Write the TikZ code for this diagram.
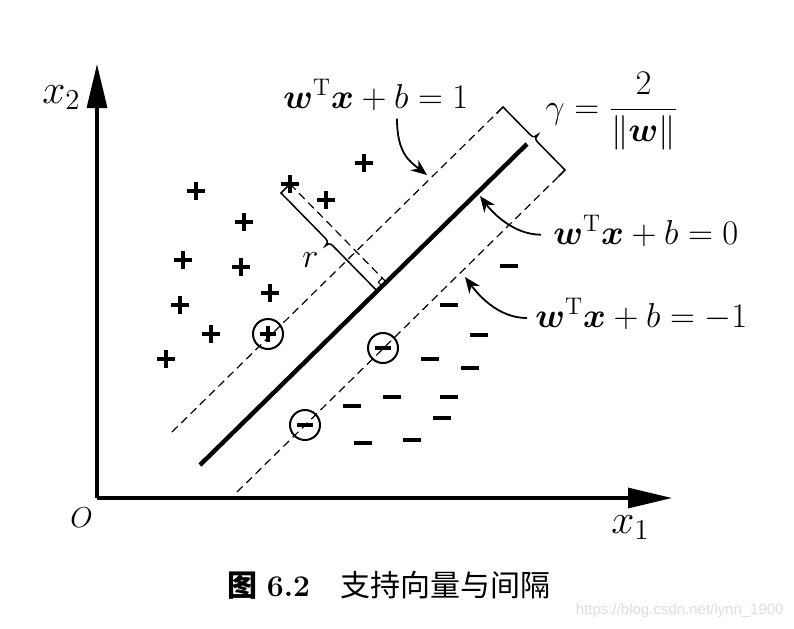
\documentclass[tikz,border=0pt]{standalone}
\usepackage{amsmath}
\usepackage{bm}
\usepackage{fontspec}
\newfontfamily\cjk{Noto Sans CJK SC}
\newfontfamily\wmfont{Liberation Sans}
\usetikzlibrary{arrows.meta,calc}

\begin{document}
\begin{tikzpicture}[x=0.5pt,y=-0.5pt]
		\tikzset{axis/.style={line width=1.6pt,-{Triangle[length=22pt,width=10pt]}}}
		\tikzset{margin/.style={line width=0.6pt,dash pattern=on 4pt off 2.5pt}}
		\tikzset{hyper/.style={line width=2.2pt}}
		\tikzset{bracket/.style={line width=0.75pt}}
		\tikzset{annot/.style={line width=0.9pt,-{Stealth[length=8pt,width=6.5pt]}}}
		\tikzset{eq/.style={inner sep=0pt,anchor=base west,font=\fontsize{17.28}{20}\selectfont}}
		\tikzset{axlabel/.style={inner sep=0pt,anchor=base west,font=\fontsize{20.74}{25}\selectfont}}
		\tikzset{sample/.style={line width=2pt}}
		\tikzset{support/.style={line width=1pt}}
		\useasboundingbox (0,0) rectangle (794,628);
		% axes
		\coordinate (o) at (97,498);
		\coordinate (xend) at (672,498);
		\coordinate (yend) at (97,64);
		\draw[axis] (o) -- (xend);
		\draw[axis] (o) -- (yend);
		\node[inner sep=0pt,anchor=base west,font=\fontsize{14.4}{17}\selectfont] (olab) at (70,527) {$O$};
		\node[axlabel] (xonelab) at (611,533) {$x_1$};
		\node[axlabel] (xtwolab) at (42,103) {$x_2$};
		% separating hyperplane and the two margins
		\coordinate (h1) at (200,465);
		\coordinate (h2) at (527,144);
		\coordinate (u1) at (172,432);
		\coordinate (g1) at (503,107);
		\coordinate (l1) at (237,492);
		\coordinate (g2) at (565,170);
		\coordinate (u2) at ($(g1)+(-6.5,6.5)$);
		\coordinate (l2) at ($(g2)+(-6.5,6.5)$);
		\draw[hyper] (h1) -- (h2);
		\draw[margin] (u1) -- (u2);
		\draw[margin] (l1) -- (l2);
		% gamma bracket
		\coordinate (gm) at ($(g1)!0.5!(g2)$);
		\draw[bracket] (u2) -- (g1) -- ($(gm)+(-3.5,-3.5)$)
			.. controls +(3,3) and +(-2,2) .. ($(gm)+(4,-4)$)
			.. controls +(-2,2) and +(-3,-3) .. ($(gm)+(3.5,3.5)$) -- (g2) -- (l2);
		% distance r of a sample
		\coordinate (p) at (290,184);
		\coordinate (f) at ($(h1)!(p)!(h2)$);
		\coordinate (r1) at ($(p)+(-9,9)$);
		\coordinate (r2) at ($(f)+(-9,9)$);
		\coordinate (rm) at ($(r1)!0.5!(r2)$);
		\draw[margin] (p) -- (f);
		\draw[bracket] (p) -- (r1) -- ($(rm)+(-3.5,-3.5)$)
			.. controls +(3,3) and +(2,-2) .. ($(rm)+(-4,4)$)
			.. controls +(2,-2) and +(-3,-3) .. ($(rm)+(3.5,3.5)$) -- (r2) -- (f);
		\draw[line width=0.5pt] ($(f)+(-4,-4)$) -- ($(f)+(-8,0)$) -- ($(f)+(-4,4)$);
		\node[eq] (rlab) at (302,267) {$r$};
		% samples
		\foreach \px/\py in {196/191,364/163,290/184,326/200,244/222,183/260,241/267,270/293,180/305,211/334,166/359}
			\draw[sample] (\px,\py) ++(-9,0) -- ++(18,0) ++(-9,-9) -- ++(0,18);
		\foreach \mx/\my in {509/266,449/305,479/335,430/359,470/368,392/397,449/397,352/406,442/418,363/443,412/440}
			\draw[sample] (\mx,\my) ++(-9,0) -- ++(18,0);
		% support vectors
		\draw[support] (268,334) circle [radius=15];
		\draw[sample] (268,334) ++(-8,0) -- ++(16,0) ++(-8,-8) -- ++(0,16);
		\foreach \sx/\sy in {383/348,305/425}{
			\draw[support] (\sx,\sy) circle [radius=15];
			\draw[sample] (\sx,\sy) ++(-8,0) -- ++(16,0);
		}
		% labels
		\node[eq] (eqone) at (283,108) {$\bm{w}^{\mathrm{T}}\bm{x}+b=1$};
		\node[eq] (eqzero) at (553,244) {$\bm{w}^{\mathrm{T}}\bm{x}+b=0$};
		\node[eq] (eqminus) at (535,327) {$\bm{w}^{\mathrm{T}}\bm{x}+b=-1$};
		\node[eq] (gaplab) at (545,118) {$\gamma=\dfrac{2}{\|\bm{w}\|}$};
		\coordinate (tipone) at (427,175);
		\coordinate (tipzero) at (480,196);
		\coordinate (tipminus) at (465,277);
		\draw[annot] ([xshift=57pt,yshift=-4pt]eqone.south west) .. controls +(0,34) and +(-18,-14) .. (tipone);
		\draw[annot] ([xshift=-6pt,yshift=-2pt]eqzero.west) .. controls +(-28,0) and +(12,16) .. (tipzero);
		\draw[annot] ([xshift=-4pt,yshift=-2pt]eqminus.west) .. controls +(-30,0) and +(12,16) .. (tipminus);
		% caption
		\node[font=\fontsize{15}{18}\selectfont] (caption) at (389,585) {{\cjk\bfseries 图} \textbf{6.2}\quad{\cjk 支持向量与间隔}};
		\node[anchor=base east,inner sep=0pt,text=black!13,font=\wmfont\fontsize{7.5}{9}\selectfont] (wm) at (784,614) {https://blog.csdn.net/lynn\_1900};
\end{tikzpicture}
\end{document}
